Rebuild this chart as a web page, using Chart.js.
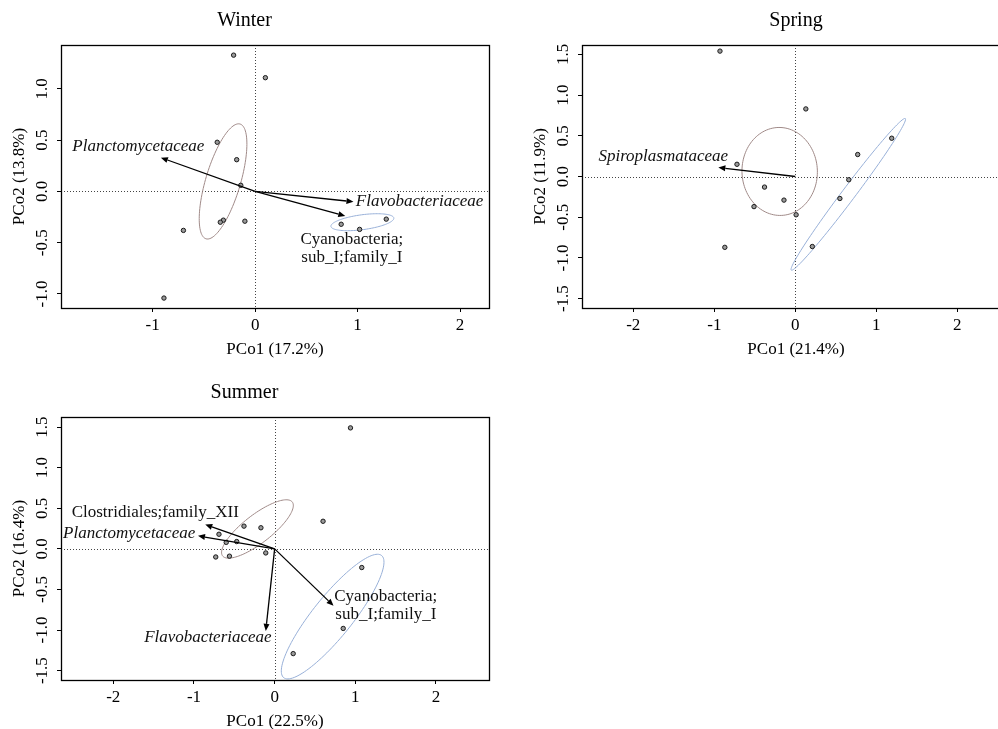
<!DOCTYPE html>
<html><head><meta charset="utf-8">
<script src="https://cdn.jsdelivr.net/npm/chart.js@4.4.1/dist/chart.umd.min.js"></script>
<style>
html,body{margin:0;padding:0;background:#fff;overflow:hidden;width:998px;height:729px;}
canvas{position:absolute;}
</style></head><body>
<canvas id="cW" width="499" height="370" style="left:0px;top:0px;width:499px;height:370px"></canvas>
<canvas id="cS" width="499" height="370" style="left:521px;top:0px;width:499px;height:370px"></canvas>
<canvas id="cU" width="499" height="370" style="left:0px;top:372px;width:499px;height:370px"></canvas>
<script>
// ---------- DATA ----------
// Winter
const winterPC1 = [-0.21, 0.10, -0.37, -0.18, -0.14, -0.31, -0.34, -0.10, -0.70, -0.89, 0.84, 1.02, 1.28];
const winterPC2 = [1.33, 1.11, 0.48, 0.31, 0.06, -0.28, -0.30, -0.29, -0.38, -1.04, -0.32, -0.37, -0.27];
const winterVecNames = ["Planctomycetaceae", "Flavobacteriaceae", "Cyanobacteria; sub_I;family_I"];
const winterVecPC1 = [-0.92, 0.96, 0.88];
const winterVecPC2 = [0.33, -0.10, -0.24];
const winterXTicks = [-1, 0, 1, 2];
const winterYTicks = [-1.0, -0.5, 0.0, 0.5, 1.0];
// Spring
const springPC1 = [-0.93, 0.13, 1.19, 0.77, -0.72, 0.66, -0.38, -0.14, -0.51, 0.55, 0.01, -0.87, 0.21];
const springPC2 = [1.54, 0.83, 0.47, 0.27, 0.15, -0.04, -0.13, -0.29, -0.37, -0.27, -0.47, -0.87, -0.86];
const springVecNames = ["Spiroplasmataceae"];
const springVecPC1 = [-0.95];
const springVecPC2 = [0.11];
const springXTicks = [-2, -1, 0, 1, 2];
const springYTicks = [-1.5, -1.0, -0.5, 0.0, 0.5, 1.0, 1.5];
// Summer
const summerPC1 = [0.94, 0.60, -0.38, -0.17, -0.69, -0.60, -0.47, -0.73, -0.56, -0.11, 1.08, 0.85, 0.23];
const summerPC2 = [1.49, 0.34, 0.28, 0.26, 0.18, 0.08, 0.09, -0.10, -0.09, -0.05, -0.23, -0.98, -1.29];
const summerVecNames = ["Clostridiales;family_XII", "Planctomycetaceae", "Flavobacteriaceae", "Cyanobacteria; sub_I;family_I"];
const summerVecPC1 = [-0.86, -0.95, -0.11, 0.73];
const summerVecPC2 = [0.30, 0.16, -1.01, -0.70];
const summerXTicks = [-2, -1, 0, 1, 2];
const summerYTicks = [-1.5, -1.0, -0.5, 0.0, 0.5, 1.0, 1.5];
// Group ellipses: centre, semi-axis vectors (data units)
const winterEllipseCentres = [[-0.313, 0.098], [1.047, -0.300]];
const winterEllipseAxisA = [[0.166, 0.560], [0.307, 0.041]];
const winterEllipseAxisB = [[0.163, -0.048], [-0.0097, 0.072]];
const springEllipseCentres = [[-0.193, 0.062], [0.654, -0.219]];
const springEllipseAxisA = [[-0.02, 0.54], [0.704, 0.931]];
const springEllipseAxisB = [[0.465, 0.017], [-0.065, 0.049]];
const summerEllipseCentres = [[-0.213, 0.245], [0.719, -0.834]];
const summerEllipseAxisA = [[0.432, 0.332], [0.607, 0.752]];
const summerEllipseAxisB = [[-0.106, 0.138], [-0.191, 0.154]];

// ---------- LAYOUT / STYLE ----------
const SERIF = '"Liberation Serif", "Times New Roman", serif';
const ELLIPSE_COLORS = ['#a08a88', '#98b0d8'];
const ITALIC_NAMES = ["Planctomycetaceae", "Flavobacteriaceae", "Spiroplasmataceae"];
const labelPlacement = {
  winter: [[-1.140, 0.439], [1.605, -0.097], [0.944, -0.465, 0.944, -0.643]],
  spring: [[-1.630, 0.251]],
  summer: [[-1.480, 0.449], [-1.803, 0.194], [-0.827, -1.096], [1.377, -0.581, 1.379, -0.807]]
};

function overlayPlugin(cfg) {
  return {
    id: 'overlay_' + cfg.key,
    beforeDatasetsDraw(chart) {
      const {ctx, chartArea: ca, scales: {x, y}} = chart;
      ctx.save();
      ctx.beginPath(); ctx.rect(ca.left, ca.top, ca.right - ca.left, ca.bottom - ca.top); ctx.clip();
      // dotted zero lines
      ctx.strokeStyle = '#444'; ctx.lineWidth = 1; ctx.setLineDash([1, 2]);
      const x0 = Math.round(x.getPixelForValue(0)) + 0.5, y0 = Math.round(y.getPixelForValue(0)) + 0.5;
      ctx.beginPath(); ctx.moveTo(x0, ca.top); ctx.lineTo(x0, ca.bottom); ctx.stroke();
      ctx.beginPath(); ctx.moveTo(ca.left, y0); ctx.lineTo(ca.right, y0); ctx.stroke();
      ctx.setLineDash([]);
      // ellipses
      cfg.ellC.forEach((c, i) => {
        const A = cfg.ellA[i], B = cfg.ellB[i];
        ctx.strokeStyle = ELLIPSE_COLORS[i]; ctx.lineWidth = 1;
        ctx.beginPath();
        for (let k = 0; k <= 120; k++) {
          const t = k / 120 * Math.PI * 2;
          const px = x.getPixelForValue(c[0] + A[0] * Math.cos(t) + B[0] * Math.sin(t));
          const py = y.getPixelForValue(c[1] + A[1] * Math.cos(t) + B[1] * Math.sin(t));
          if (k === 0) ctx.moveTo(px, py); else ctx.lineTo(px, py);
        }
        ctx.closePath(); ctx.stroke();
      });
      ctx.restore();
    },
    afterDatasetsDraw(chart) {
      const {ctx, chartArea: ca, scales: {x, y}} = chart;
      ctx.save();
      // arrows
      const ox = x.getPixelForValue(0), oy = y.getPixelForValue(0);
      ctx.strokeStyle = '#000'; ctx.fillStyle = '#000'; ctx.lineWidth = 1.3;
      cfg.vx.forEach((vx, i) => {
        const tx = x.getPixelForValue(vx), ty = y.getPixelForValue(cfg.vy[i]);
        const ang = Math.atan2(ty - oy, tx - ox);
        const hl = 7, hw = 3;
        const bx = tx - hl * Math.cos(ang), by = ty - hl * Math.sin(ang);
        ctx.beginPath(); ctx.moveTo(ox, oy); ctx.lineTo(bx, by); ctx.stroke();
        ctx.beginPath();
        ctx.moveTo(tx, ty);
        ctx.lineTo(bx + hw * Math.sin(ang), by - hw * Math.cos(ang));
        ctx.lineTo(bx - hw * Math.sin(ang), by + hw * Math.cos(ang));
        ctx.closePath(); ctx.fill();
      });
      // labels
      ctx.textAlign = 'center'; ctx.textBaseline = 'middle'; ctx.fillStyle = '#111';
      cfg.names.forEach((name, i) => {
        const pos = cfg.labels[i];
        const italic = ITALIC_NAMES.includes(name);
        ctx.font = (italic ? 'italic ' : '') + '17px ' + SERIF;
        if (pos.length === 4) {
          const parts = name.split(' ');
          ctx.fillText(parts[0], x.getPixelForValue(pos[0]), y.getPixelForValue(pos[1]));
          ctx.fillText(parts[1], x.getPixelForValue(pos[2]), y.getPixelForValue(pos[3]));
        } else {
          ctx.fillText(name, x.getPixelForValue(pos[0]), y.getPixelForValue(pos[1]));
        }
      });
      // box
      ctx.strokeStyle = '#000'; ctx.lineWidth = 1.3;
      ctx.strokeRect(Math.round(ca.left) + 0.5, Math.round(ca.top) + 0.5, Math.round(ca.right - ca.left), Math.round(ca.bottom - ca.top));
      // y tick labels (rotated, R style)
      ctx.font = '17px ' + SERIF; ctx.fillStyle = '#000';
      ctx.textAlign = 'center'; ctx.textBaseline = 'middle';
      y.ticks.forEach(t => {
        const py = y.getPixelForValue(t.value);
        ctx.save();
        ctx.translate(ca.left - 18, py);
        ctx.rotate(-Math.PI / 2);
        ctx.fillText(t.value.toFixed(1), 0, 0);
        ctx.restore();
      });
      ctx.restore();
    }
  };
}

function makeChart(id, cfg) {
  return new Chart(document.getElementById(id), {
    type: 'scatter',
    data: {
      datasets: [{
        data: cfg.px.map((v, i) => ({x: v, y: cfg.py[i]})),
        pointRadius: 2.2, pointHoverRadius: 2.2, pointBorderWidth: 1,
        pointBorderColor: '#1a1a1a', pointBackgroundColor: '#9a9a9a'
      }]
    },
    options: {
      responsive: false, animation: false, events: [],
      layout: {padding: {left: 0, right: 10, top: 0, bottom: 0}},
      plugins: {
        legend: {display: false}, tooltip: {enabled: false},
        title: {display: true, text: cfg.title, fullSize: cfg.titleFull, color: '#000',
          font: {family: SERIF, size: 20, weight: 'normal', lineHeight: 1.2}, padding: {top: 9, bottom: 12}}
      },
      scales: {
        x: {
          type: 'linear', min: cfg.xMin, max: cfg.xMax,
          afterBuildTicks: s => { s.ticks = cfg.xTicks.map(v => ({value: v})); },
          afterFit: s => { s.height = 62; },
          grid: {display: true, drawOnChartArea: false, drawTicks: true, tickLength: 4, color: '#000', lineWidth: 1},
          border: {display: true, color: '#000', width: 1},
          ticks: {color: '#000', font: {family: SERIF, size: 17}, padding: 3, maxRotation: 0, autoSkip: false,
            callback: v => String(v)},
          title: {display: true, text: cfg.xTitle, color: '#000', font: {family: SERIF, size: 17, lineHeight: 1.2},
            padding: {top: 0, bottom: 10}}
        },
        y: {
          type: 'linear', min: cfg.yMin, max: cfg.yMax,
          afterBuildTicks: s => { s.ticks = cfg.yTicks.map(v => ({value: v})); },
          afterFit: s => { s.width = 61; },
          grid: {display: true, drawOnChartArea: false, drawTicks: true, tickLength: 4, color: '#000', lineWidth: 1},
          border: {display: true, color: '#000', width: 1},
          ticks: {display: false},
          title: {display: true, text: cfg.yTitle, color: '#000', font: {family: SERIF, size: 17, lineHeight: 1.2},
            padding: {top: 9, bottom: 0}}
        }
      }
    },
    plugins: [overlayPlugin(cfg)]
  });
}

makeChart('cW', {
  key: 'w', title: 'Winter', titleFull: true,
  px: winterPC1, py: winterPC2, vx: winterVecPC1, vy: winterVecPC2, names: winterVecNames,
  labels: labelPlacement.winter,
  ellC: winterEllipseCentres, ellA: winterEllipseAxisA, ellB: winterEllipseAxisB,
  xMin: -1.895, xMax: 2.283, yMin: -1.137, yMax: 1.429,
  xTicks: winterXTicks, yTicks: winterYTicks,
  xTitle: 'PCo1 (17.2%)', yTitle: 'PCo2 (13.8%)'
});
makeChart('cS', {
  key: 's', title: 'Spring', titleFull: false,
  px: springPC1, py: springPC2, vx: springVecPC1, vy: springVecPC2, names: springVecNames,
  labels: labelPlacement.spring,
  ellC: springEllipseCentres, ellA: springEllipseAxisA, ellB: springEllipseAxisB,
  xMin: -2.633, xMax: 2.65, yMin: -1.615, yMax: 1.615,
  xTicks: springXTicks, yTicks: springYTicks,
  xTitle: 'PCo1 (21.4%)', yTitle: 'PCo2 (11.9%)'
});
makeChart('cU', {
  key: 'u', title: 'Summer', titleFull: true,
  px: summerPC1, py: summerPC2, vx: summerVecPC1, vy: summerVecPC2, names: summerVecNames,
  labels: labelPlacement.summer,
  ellC: summerEllipseCentres, ellA: summerEllipseAxisA, ellB: summerEllipseAxisB,
  xMin: -2.648, xMax: 2.657, yMin: -1.615, yMax: 1.624,
  xTicks: summerXTicks, yTicks: summerYTicks,
  xTitle: 'PCo1 (22.5%)', yTitle: 'PCo2 (16.4%)'
});
</script>
</body></html>
